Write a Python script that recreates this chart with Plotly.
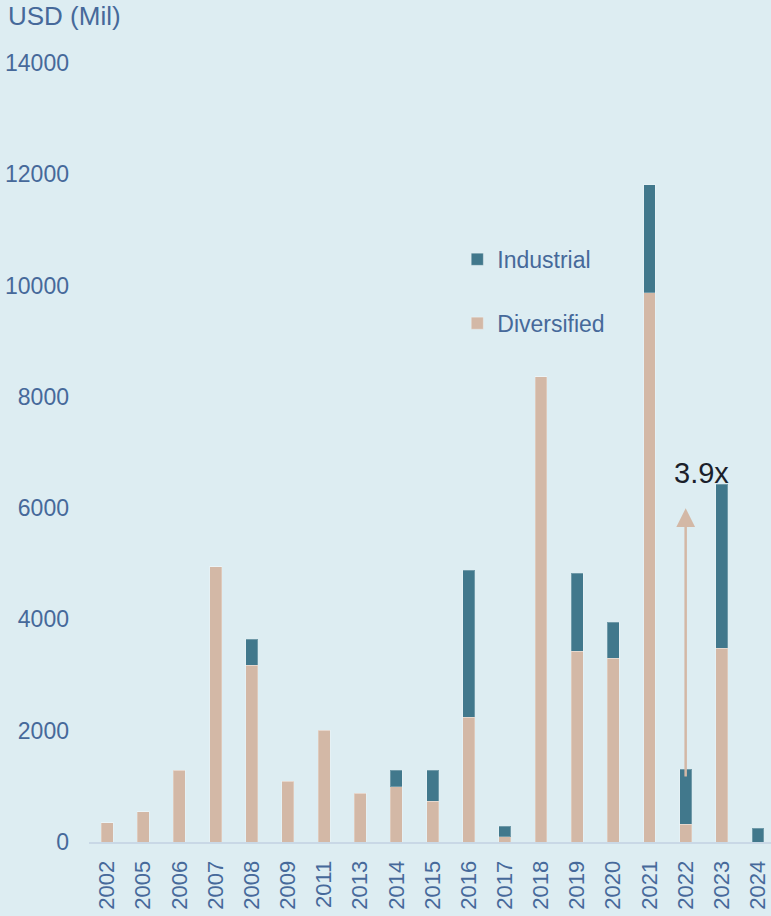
import plotly.graph_objects as go

# Deal value by year, USD millions
years = ["2002", "2005", "2006", "2007", "2008", "2009", "2011", "2013", "2014", "2015",
         "2016", "2017", "2018", "2019", "2020", "2021", "2022", "2023", "2024"]
diversified = [350, 540, 1290, 4950, 3180, 1095, 2010, 880, 990, 735,
               2245, 90, 8365, 3430, 3300, 9870, 323, 3480, 0]
industrial = [0, 0, 0, 0, 460, 0, 0, 0, 300, 555,
              2635, 197, 0, 1400, 650, 1940, 987, 2946, 250]

y_ticks = [0, 2000, 4000, 6000, 8000, 10000, 12000, 14000]

# growth callout
arrow_year = "2022"
arrow_from, arrow_to = 1150, 6000
callout_text = "3.9x"
callout_y = 6640

BG = "#ddedf2"
C_IND = "#41788c"
C_DIV = "#d3b8a6"
TXT = "#46699a"
FONT = "Arial, Liberation Sans, sans-serif"

arrow_x = years.index(arrow_year)

fig = go.Figure()
fig.add_trace(go.Bar(
    x=years, y=diversified, name="Diversified", marker_color=C_DIV,
    marker_line=dict(width=1, color="rgba(255,255,255,0.25)"),
    width=0.33, legend="legend2",
))
fig.add_trace(go.Bar(
    x=years, y=industrial, name="Industrial", marker_color=C_IND,
    marker_line=dict(width=1, color="rgba(255,255,255,0.25)"),
    width=0.33, legend="legend",
))

fig.update_layout(
    barmode="stack",
    width=771, height=916,
    paper_bgcolor=BG, plot_bgcolor=BG,
    margin=dict(l=89, r=0, t=63, b=74, autoexpand=False),
    font=dict(family=FONT, color=TXT, size=23),
    showlegend=True,
    legend=dict(x=0.54, y=0.748, xanchor="left", yanchor="middle",
                bgcolor="rgba(0,0,0,0)", font=dict(size=23, color=TXT)),
    legend2=dict(x=0.54, y=0.666, xanchor="left", yanchor="middle",
                 bgcolor="rgba(0,0,0,0)", font=dict(size=23, color=TXT)),
    xaxis=dict(
        type="category", range=[-0.5, 18.36],
        tickangle=-90, tickfont=dict(size=22, color=TXT),
        showgrid=False, zeroline=False,
        showline=True, linecolor="#c9d8e6", linewidth=2,
        ticks="", ticklabelstandoff=8,
    ),
    yaxis=dict(
        range=[0, 14000], tickvals=y_ticks,
        ticktext=[str(v) for v in y_ticks],
        tickfont=dict(size=23, color=TXT),
        showgrid=False, zeroline=False, showline=False,
        ticks="", ticklabelstandoff=19,
    ),
    annotations=[
        dict(text="USD (Mil)", xref="paper", yref="paper",
             x=-83 / 682, y=1.06, xanchor="left", yanchor="middle",
             showarrow=False, font=dict(size=26, color=TXT)),
        dict(x=arrow_x, y=arrow_to, ax=arrow_x, ay=arrow_from,
             xref="x", yref="y", axref="x", ayref="y",
             text="", showarrow=True, arrowhead=2, arrowsize=1.5,
             arrowwidth=2.5, arrowcolor=C_DIV),
        dict(x=16.44, y=callout_y, xref="x", yref="y",
             text=callout_text, showarrow=False,
             font=dict(size=29, color="#1b1f2b")),
    ],
)

fig.write_html("out.html")
